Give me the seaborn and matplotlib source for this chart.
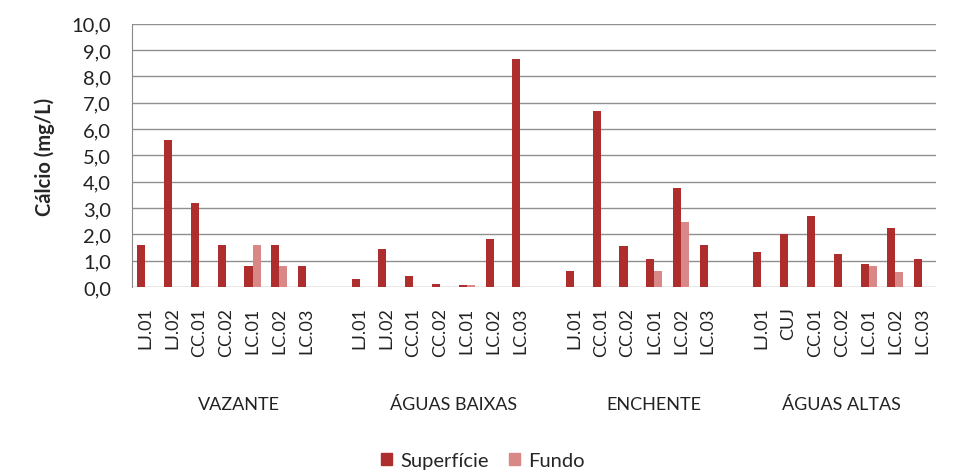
import pandas as pd
import numpy as np
import matplotlib.pyplot as plt
import seaborn as sns


# DATA
periods = ['VAZANTE', 'ÁGUAS BAIXAS', 'ENCHENTE', 'ÁGUAS ALTAS']

stations = {
    'VAZANTE': ['LJ.01', 'LJ.02', 'CC.01', 'CC.02', 'LC.01', 'LC.02', 'LC.03'],
    'ÁGUAS BAIXAS': ['LJ.01', 'LJ.02', 'CC.01', 'CC.02', 'LC.01', 'LC.02', 'LC.03'],
    'ENCHENTE': ['LJ.01', 'CC.01', 'CC.02', 'LC.01', 'LC.02', 'LC.03'],
    'ÁGUAS ALTAS': ['LJ.01', 'CUJ', 'CC.01', 'CC.02', 'LC.01', 'LC.02', 'LC.03'],
}

superficie = {
    'VAZANTE': [1.6, 5.6, 3.2, 1.6, 0.8, 1.6, 0.8],
    'ÁGUAS BAIXAS': [0.3, 1.43, 0.42, 0.13, 0.09, 1.81, 8.65],
    'ENCHENTE': [0.63, 6.67, 1.56, 1.05, 3.76, 1.6],
    'ÁGUAS ALTAS': [1.35, 2.03, 2.7, 1.27, 0.89, 2.23, 1.05],
}

fundo = {
    'VAZANTE': [None, None, None, None, 1.6, 0.8, None],
    'ÁGUAS BAIXAS': [None, None, None, None, 0.09, None, None],
    'ENCHENTE': [None, None, None, 0.63, 2.46, None],
    'ÁGUAS ALTAS': [None, None, None, None, 0.8, 0.58, None],
}


# BUILD LONG TABLE (with a blank slot after each period but the last)
rows = []
order = []
tick_labels = []
group_centers = []
for i, p in enumerate(periods):
    start = len(order)
    for j, st in enumerate(stations[p]):
        key = p + '|' + st
        order.append(key)
        tick_labels.append(st)
        rows.append({'cat': key, 'serie': 'Superfície', 'valor': superficie[p][j]})
        if fundo[p][j] is not None:
            rows.append({'cat': key, 'serie': 'Fundo', 'valor': fundo[p][j]})
    if i < len(periods) - 1:
        order.append('gap%d' % i)
        tick_labels.append('')
    # the blank slot counts as part of the group for centering its name
    group_centers.append((start + len(order) - 1) / 2)

df = pd.DataFrame(rows)


# PLOT
sns.set_style('white')
plt.rcParams['font.family'] = ['Lato', 'DejaVu Sans']

fig = plt.figure(figsize=(9.6, 4.77), dpi=100)
ax = fig.add_axes([0.1375, 0.396, 0.837, 0.552])

sns.barplot(
    data=df, x='cat', y='valor', hue='serie',
    order=order, hue_order=['Superfície', 'Fundo'],
    palette=['#AE2E2E', '#D98888'],
    width=0.6, errorbar=None, ax=ax, saturation=1,
    linewidth=0
)

ax.set_ylim(0, 10)
ax.set_xlim(-0.5, len(order) - 0.5)
ax.set_yticks(np.arange(0, 10.01, 1))
ax.set_yticklabels([('%.1f' % v).replace('.', ',') for v in np.arange(0, 10.01, 1)],
                   fontsize=14.5, color='#222222')
ax.set_xticks(range(len(order)))
ax.set_xticklabels(tick_labels, rotation=90, fontsize=13, color='#222222')
ax.tick_params(axis='x', length=0, pad=14)
ax.tick_params(axis='y', length=5, width=1, color='#888888', direction='out', pad=10)

ax.yaxis.grid(True, color='#8f8f8f', linewidth=1)
ax.set_axisbelow(True)
for s in ['top', 'right', 'bottom']:
    ax.spines[s].set_visible(False)
ax.spines['left'].set_color('#888888')

ax.set_xlabel('')
ax.set_ylabel('Cálcio (mg/L)', fontsize=14.5, fontweight='bold', labelpad=12)

# period names under the station labels
for p, c in zip(periods, group_centers):
    ax.text(c, -4.45, p, ha='center', va='center', fontsize=13, color='#222222',
            transform=ax.transData, clip_on=False)

ax.legend_.remove()
handles = [plt.Rectangle((0, 0), 1, 1, color='#AE2E2E'),
           plt.Rectangle((0, 0), 1, 1, color='#D98888')]
fig.legend(handles, ['Superfície', 'Fundo'], loc='center', bbox_to_anchor=(0.503, 0.032),
           ncol=2, frameon=False, fontsize=14.5, handlelength=0.55, handleheight=0.55,
           columnspacing=1.0, handletextpad=0.4)

plt.savefig('out.png', dpi=100)
